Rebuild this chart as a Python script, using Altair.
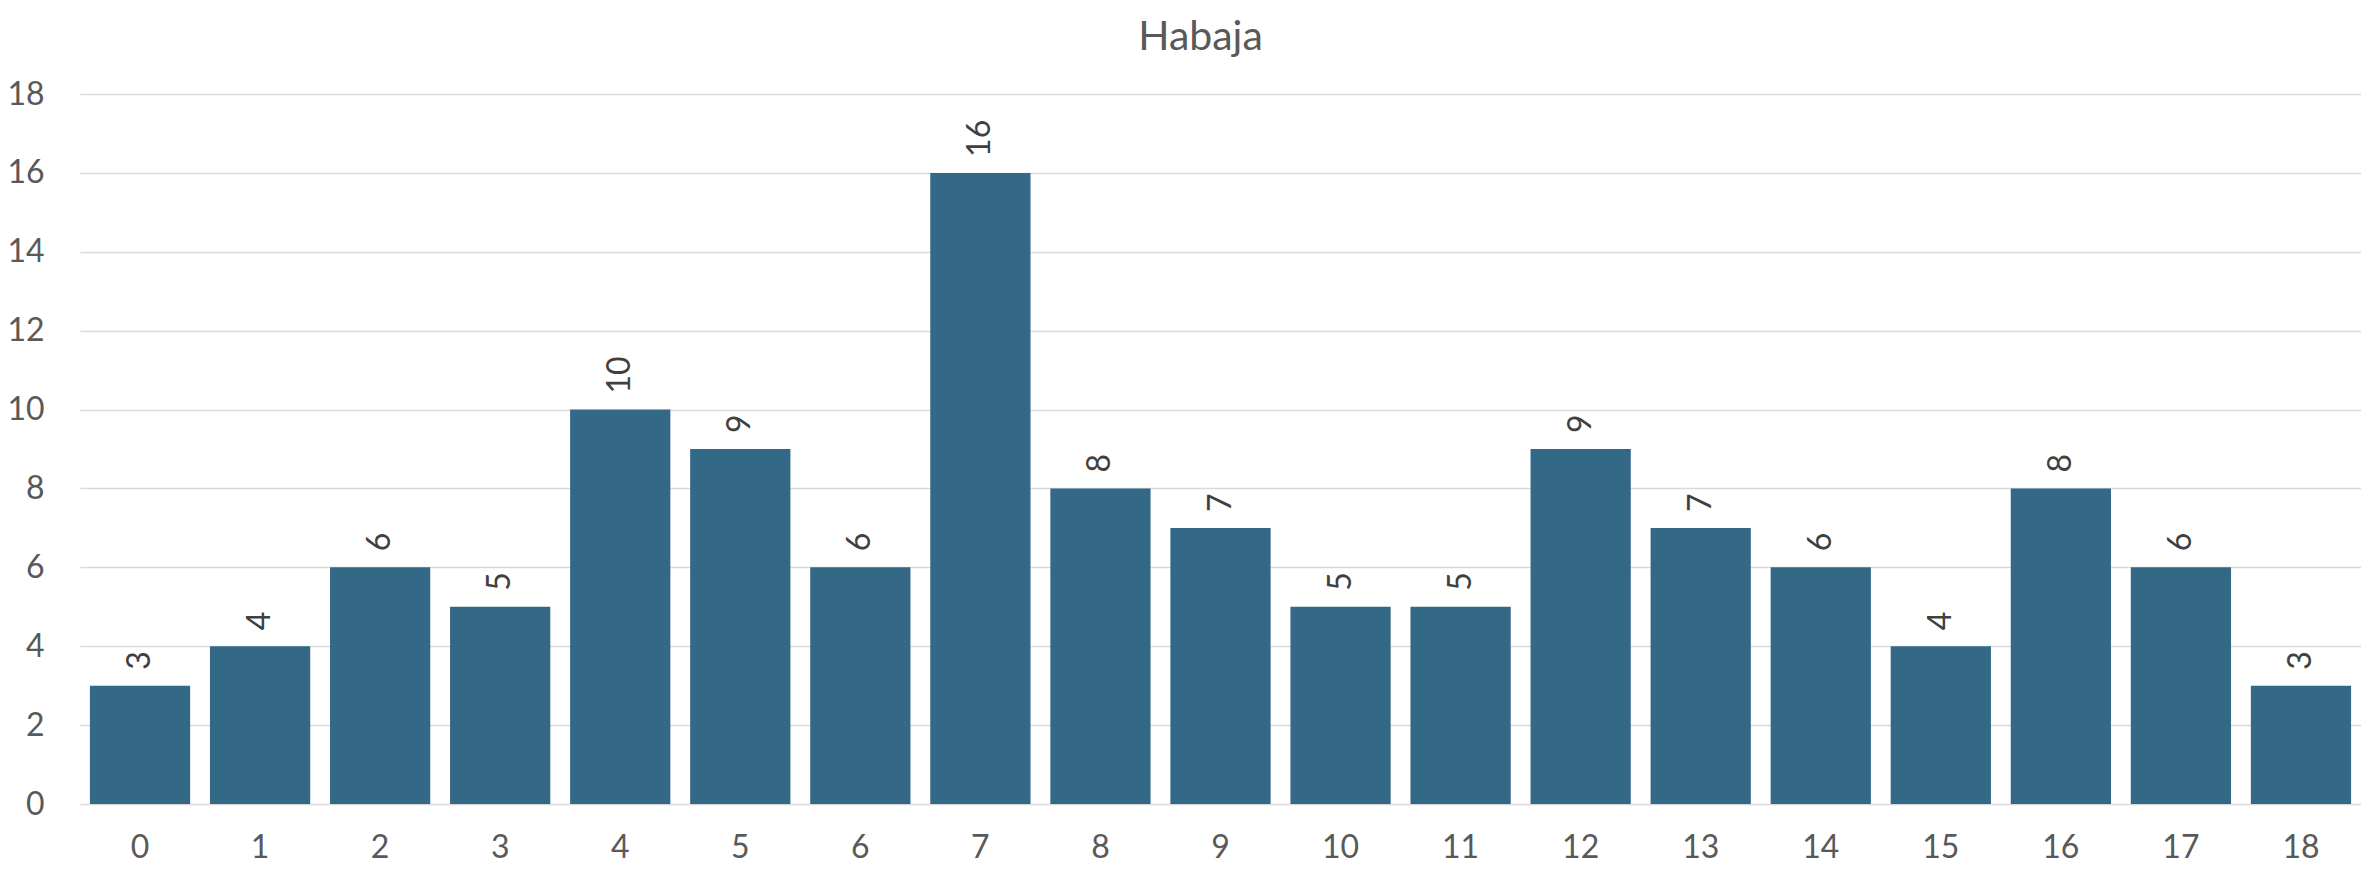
import altair as alt
import pandas as pd

categories = [str(i) for i in range(19)]
values = [3, 4, 6, 5, 10, 9, 6, 16, 8, 7, 5, 5, 9, 7, 6, 4, 8, 6, 3]
y_ticks = [0, 2, 4, 6, 8, 10, 12, 14, 16, 18]

df = pd.DataFrame({"cat": categories, "val": values})

FONT = "Lato"

x = alt.X("cat:N", sort=categories, title=None,
          scale=alt.Scale(paddingInner=0.165, paddingOuter=0.0825),
          axis=alt.Axis(labelAngle=0, ticks=False, domain=False, labelPadding=28,
                        labelFontSize=32, labelColor="#595959", labelFont=FONT, grid=False))
y = alt.Y("val:Q", title=None, scale=alt.Scale(domain=[0, 18], nice=False),
          axis=alt.Axis(values=y_ticks, ticks=False, domain=False, labelPadding=36,
                        labelFontSize=32, labelColor="#595959", labelFont=FONT,
                        gridColor="#d9d9d9", gridWidth=1.5))

bars = alt.Chart(df).mark_bar(color="#336887").encode(x=x, y=y)
labels = alt.Chart(df).mark_text(angle=270, align="left", baseline="middle", dx=16,
                                 fontSize=32, font=FONT, color="#404040").encode(
    x=alt.X("cat:N", sort=categories), y="val:Q", text="val:Q")

chart = (bars + labels).properties(
    width=2281, height=710,
    title=alt.TitleParams("Habaja", fontSize=41, font=FONT, fontWeight="normal",
                          color="#595959", anchor="middle", offset=19, dx=-20),
    autosize=alt.AutoSizeParams(type="none"),
    padding={"left": 72, "top": 86, "right": 0, "bottom": 62},
).configure_view(stroke=None)

chart.save("out.html", embed_options={"renderer": "svg", "actions": False})
